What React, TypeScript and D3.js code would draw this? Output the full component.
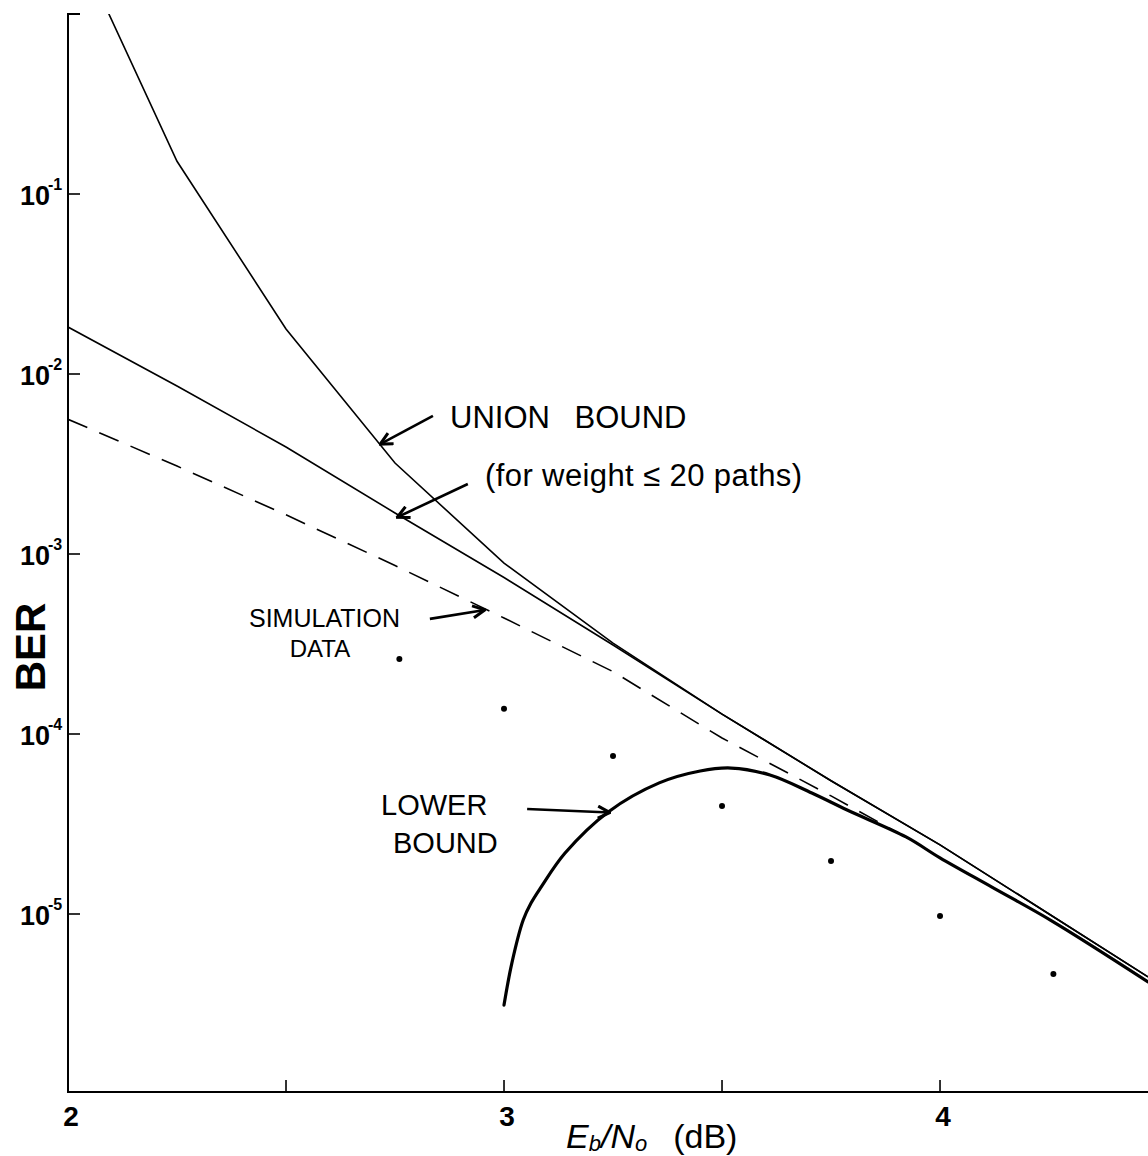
import { useRef, useEffect } from "react";
import * as d3 from "d3";

// Eb/N0 (dB) sample points used for the union bound curves
const ebno = [2, 2.25, 2.5, 2.75, 3, 3.25, 3.5, 3.75, 4, 4.25, 4.477];
// union bound, all paths (steep curve)
const unionAll = [3.1, 0.152, 0.0178, 0.0032, 8.9e-4, 3.2e-4, 1.29e-4, 5.5e-5, 2.42e-5, 1.0e-5, 4.47e-6];
// union bound, weight <= 20 paths
const unionW20 = [0.01824, 0.00858, 0.00393, 0.00169, 7.4e-4, 3.12e-4, 1.29e-4, 5.5e-5, 2.42e-5, 1.0e-5, 4.47e-6];

// simulation data (dashed)
const simX = [2, 2.25, 2.5, 2.75, 3, 3.25, 3.5, 3.75, 3.95];
const simY = [5.6e-3, 3.08e-3, 1.65e-3, 8.63e-4, 4.41e-4, 2.22e-4, 9.5e-5, 4.53e-5, 2.45e-5];

// points
const dotX = [2.76, 3, 3.25, 3.5, 3.75, 4, 4.26];
const dotY = [2.61e-4, 1.38e-4, 7.55e-5, 3.98e-5, 1.97e-5, 9.75e-6, 4.64e-6];

// lower bound (thick)
const lbX = [3.0, 3.018, 3.044, 3.062, 3.085, 3.14, 3.239, 3.356, 3.45, 3.521, 3.61, 3.706, 3.787, 3.922, 4.0, 4.119, 4.255, 4.477];
const lbY = [3.12e-6, 5.34e-6, 9.26e-6, 1.15e-5, 1.41e-5, 2.18e-5, 3.69e-5, 5.35e-5, 6.23e-5, 6.47e-5, 5.92e-5, 4.7e-5, 3.78e-5, 2.68e-5, 2.05e-5, 1.41e-5, 9.2e-6, 4.2e-6];

const yTicks = [1e-1, 1e-2, 1e-3, 1e-4, 1e-5];
const yTickExp = ["-1", "-2", "-3", "-4", "-5"];
const xTicks = [2.5, 3, 3.5, 4];
const xLabels = [2, 3, 4];

// annotation arrows (tail -> tip), in data units
const arrowsData = [
  { x0: 2.837, y0: 5.85e-3, x1: 2.716, y1: 4.08e-3 },
  { x0: 2.917, y0: 2.45e-3, x1: 2.755, y1: 1.6e-3 },
  { x0: 2.83, y0: 4.36e-4, x1: 2.956, y1: 4.89e-4 },
  { x0: 3.053, y0: 3.83e-5, x1: 3.243, y1: 3.66e-5 },
];

export default function App() {
  const ref = useRef<SVGSVGElement>(null);

  function init() {
    const W = 1148,
      H = 1156;
    const left = 68,
      right = 1148,
      top = 14,
      bottom = 1092;

    const svg = d3.select(ref.current);
    svg.selectAll("*").remove();

    const x = d3.scaleLinear().domain([2, 4.477]).range([left, right]);
    const y = d3.scaleLog().domain([1e-6, 1]).range([1094, top]);

    const defs = svg.append("defs");
    defs
      .append("clipPath")
      .attr("id", "plot")
      .append("rect")
      .attr("x", left)
      .attr("y", top)
      .attr("width", right - left)
      .attr("height", bottom - top);

    defs
      .append("marker")
      .attr("id", "head")
      .attr("viewBox", "0 0 10 10")
      .attr("refX", 9)
      .attr("refY", 5)
      .attr("markerWidth", 15)
      .attr("markerHeight", 15)
      .attr("markerUnits", "userSpaceOnUse")
      .attr("orient", "auto")
      .append("path")
      .attr("d", "M1,1 L9,5 L1,9")
      .attr("fill", "none")
      .attr("stroke", "#000")
      .attr("stroke-width", 2);

    // Axes
    svg
      .append("path")
      .attr("d", `M${left + 12},${top} H${left} V${bottom} H${right}`)
      .attr("fill", "none")
      .attr("stroke", "#000")
      .attr("stroke-width", 2);

    svg
      .selectAll(".ytick")
      .data(yTicks)
      .join("line")
      .attr("x1", left)
      .attr("x2", left + 12)
      .attr("y1", (d) => y(d))
      .attr("y2", (d) => y(d))
      .attr("stroke", "#000")
      .attr("stroke-width", 1.6);

    svg
      .selectAll(".xtick")
      .data(xTicks)
      .join("line")
      .attr("x1", (d) => x(d))
      .attr("x2", (d) => x(d))
      .attr("y1", bottom)
      .attr("y2", bottom - 12)
      .attr("stroke", "#000")
      .attr("stroke-width", 1.6);

    const font = "'Liberation Sans', Arial, sans-serif";

    // y tick labels
    const yl = svg.append("g").attr("font-family", font).attr("font-weight", "bold");
    yTicks.forEach((t, i) => {
      yl.append("text")
        .attr("x", 50)
        .attr("y", y(t) + 11)
        .attr("text-anchor", "end")
        .attr("font-size", 27)
        .text("10");
      yl.append("text")
        .attr("x", 48)
        .attr("y", y(t) - 4)
        .attr("font-size", 16)
        .text(yTickExp[i]);
    });

    // x tick labels
    svg
      .append("g")
      .selectAll("text")
      .data(xLabels)
      .join("text")
      .attr("x", (d) => x(d) + 3)
      .attr("y", 1126)
      .attr("text-anchor", "middle")
      .attr("font-family", font)
      .attr("font-weight", "bold")
      .attr("font-size", 28)
      .text((d) => d);

    // axis titles
    const xt = svg
      .append("text")
      .attr("x", 566)
      .attr("y", 1148)
      .attr("font-family", font)
      .attr("font-style", "italic")
      .attr("font-size", 34);
    xt.append("tspan").text("E");
    xt.append("tspan").attr("font-size", 22).attr("dy", 3).text("b");
    xt.append("tspan").attr("dy", -3).text("/N");
    xt.append("tspan").attr("font-size", 22).attr("dy", 3).text("o");
    xt.append("tspan").attr("dy", -3).attr("dx", 26).attr("font-style", "normal").text("(dB)");

    svg
      .append("text")
      .attr("transform", `translate(45,647) rotate(-90)`)
      .attr("text-anchor", "middle")
      .attr("font-family", font)
      .attr("font-size", 42)
      .attr("font-weight", "bold")
      .text("BER");

    // Data
    const plot = svg.append("g").attr("clip-path", "url(#plot)");
    const line = d3
      .line<[number, number]>()
      .x((d) => x(d[0]))
      .y((d) => y(d[1]));

    const ua = ebno.map((e, i) => [e, unionAll[i]] as [number, number]);
    const uw = ebno.map((e, i) => [e, unionW20[i]] as [number, number]);
    const sim = simX.map((e, i) => [e, simY[i]] as [number, number]);
    const lb = lbX.map((e, i) => [e, lbY[i]] as [number, number]);

    plot.append("path").attr("d", line(ua)).attr("fill", "none").attr("stroke", "#000").attr("stroke-width", 1.6);
    plot.append("path").attr("d", line(uw)).attr("fill", "none").attr("stroke", "#000").attr("stroke-width", 1.6);
    plot
      .append("path")
      .attr("d", line(sim))
      .attr("fill", "none")
      .attr("stroke", "#000")
      .attr("stroke-width", 1.6)
      .attr("stroke-dasharray", "21,13");
    plot
      .append("path")
      .attr("d", line.curve(d3.curveCatmullRom.alpha(0.5))(lb))
      .attr("fill", "none")
      .attr("stroke", "#000")
      .attr("stroke-width", 3.2)
      .attr("stroke-linecap", "round");

    plot
      .selectAll("circle")
      .data(dotX)
      .join("circle")
      .attr("cx", (d) => x(d))
      .attr("cy", (d, i) => y(dotY[i]))
      .attr("r", 3)
      .attr("fill", "#000");

    // annotations
    svg
      .append("g")
      .selectAll("line")
      .data(arrowsData)
      .join("line")
      .attr("x1", (d) => x(d.x0))
      .attr("y1", (d) => y(d.y0))
      .attr("x2", (d) => x(d.x1))
      .attr("y2", (d) => y(d.y1))
      .attr("stroke", "#000")
      .attr("stroke-width", 2.6)
      .attr("marker-end", "url(#head)");

    const ann = svg.append("g").attr("font-family", font).attr("fill", "#000");
    ann.append("text").attr("x", 450).attr("y", 428).attr("font-size", 31).attr("word-spacing", 16).text("UNION BOUND");
    ann.append("text").attr("x", 485).attr("y", 486).attr("font-size", 31).attr("letter-spacing", 0.4).text("(for weight ≤ 20 paths)");
    ann.append("text").attr("x", 249).attr("y", 627).attr("font-size", 25).text("SIMULATION");
    ann.append("text").attr("x", 320).attr("y", 657).attr("font-size", 24).attr("text-anchor", "middle").text("DATA");
    ann.append("text").attr("x", 381).attr("y", 815).attr("font-size", 29).text("LOWER");
    ann.append("text").attr("x", 393).attr("y", 853).attr("font-size", 29).text("BOUND");

    svg.attr("width", W).attr("height", H);
  }

  useEffect(init, []);

  return (
    <svg
      ref={ref}
      width={1148}
      height={1156}
      style={{ position: "absolute", left: 0, top: 0, background: "#fff" }}
    />
  );
}
